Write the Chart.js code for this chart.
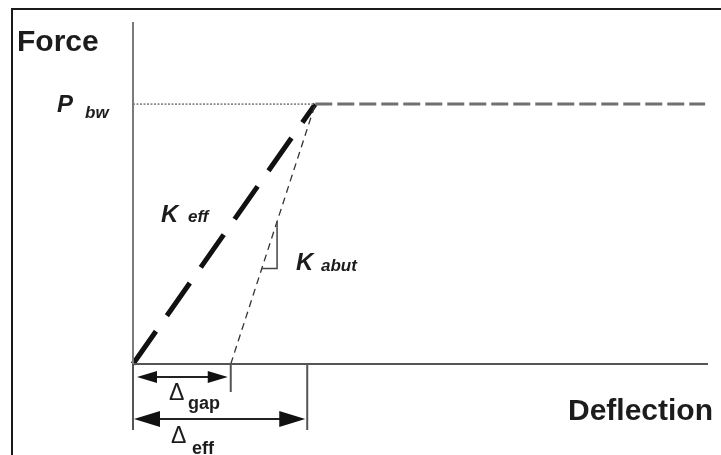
<!DOCTYPE html>
<html>
<head>
<meta charset="utf-8">
<script src="https://cdn.jsdelivr.net/npm/chart.js@4.4.1/dist/chart.umd.min.js"></script>
<style>
    html, body { margin: 0; padding: 0; background: #fff; }
    #wrap { position: relative; width: 721px; height: 455px; overflow: hidden; }
    #frame { position: absolute; left: 11px; top: 8px; width: 800px; height: 600px;
             border-left: 2px solid #1a1a1a; border-top: 2px solid #1a1a1a; }
    canvas { position: absolute; left: 0; top: 0; }
</style>
</head>
<body>
<div id="wrap">
    <div id="frame"></div>
    <canvas id="forceChart" width="721" height="455"></canvas>
</div>
<script>
// Bilinear force-deflection model (arbitrary units, axes run 0..100)
const axisMax = [100, 100];          // [deflection, force]
const pBw = 76;                      // backwall capacity
const yieldDeflection = 31.7;        // deflection where P_bw is reached
const deltaGap = 17;                 // gap before abutment engages
const deltaEff = 30.3;               // effective deflection (dimension mark)
const plateauEnd = 99.5;
const slopeMark = [0.367, 0.548];    // fractions of P_bw spanned by the slope triangle

const kEffLine = [[0, 0], [yieldDeflection, pBw]];
const kAbutLine = [[deltaGap, 0], [yieldDeflection, pBw]];
const pBwGuide = [[0, pBw], [yieldDeflection, pBw]];
const plateau = [[yieldDeflection, pBw], [plateauEnd, pBw]];
const xAxisLine = [[0, 0], [axisMax[0], 0]];
const yAxisLine = [[0, 0], [0, axisMax[1]]];

const toPoints = arr => arr.map(p => ({ x: p[0], y: p[1] }));

function lineSet(data, color, width, dash) {
    return {
        data: toPoints(data),
        borderColor: color,
        borderWidth: width,
        borderDash: dash || [],
        borderCapStyle: "butt",
        pointRadius: 0,
        fill: false,
        clip: false,
        tension: 0
    };
}

// Dimension lines, symbols and axis names drawn on top of the chart
const annotations = {
    id: "annotations",
    afterDraw(chart) {
        const ctx = chart.ctx;
        const xs = chart.scales.x, ys = chart.scales.y;
        const px = v => xs.getPixelForValue(v);
        const py = v => ys.getPixelForValue(v);
        const x0 = px(0), xg = px(deltaGap), xe = px(deltaEff), base = py(0);

        ctx.save();

        // extension lines under the deflection axis
        ctx.strokeStyle = "#555";
        ctx.lineWidth = 2;
        ctx.beginPath();
        ctx.moveTo(x0, base); ctx.lineTo(x0, base + 66);
        ctx.moveTo(xg, base); ctx.lineTo(xg, base + 28);
        ctx.moveTo(xe, base); ctx.lineTo(xe, base + 66);
        ctx.stroke();

        function arrow(a, b, y, len, half) {
            ctx.strokeStyle = "#222";
            ctx.fillStyle = "#111";
            ctx.lineWidth = 2;
            ctx.beginPath();
            ctx.moveTo(a + len * 0.5, y); ctx.lineTo(b - len * 0.5, y);
            ctx.stroke();
            ctx.beginPath();
            ctx.moveTo(a, y); ctx.lineTo(a + len, y - half); ctx.lineTo(a + len, y + half);
            ctx.closePath(); ctx.fill();
            ctx.beginPath();
            ctx.moveTo(b, y); ctx.lineTo(b - len, y - half); ctx.lineTo(b - len, y + half);
            ctx.closePath(); ctx.fill();
        }
        arrow(x0 + 4, xg - 3, base + 13, 20, 6);
        arrow(x0 + 1, xe - 2, base + 55, 26, 8);

        // slope triangle on the abutment line
        const [t1, t2] = slopeMark;
        const ax = px(deltaGap + (yieldDeflection - deltaGap) * t1), ay = py(pBw * t1);
        const bx = px(deltaGap + (yieldDeflection - deltaGap) * t2), by = py(pBw * t2);
        ctx.strokeStyle = "#444";
        ctx.lineWidth = 1.5;
        ctx.beginPath();
        ctx.moveTo(ax, ay); ctx.lineTo(bx, ay); ctx.lineTo(bx, by);
        ctx.stroke();

        // texts
        ctx.fillStyle = "#1c1c1c";
        ctx.textBaseline = "alphabetic";
        ctx.textAlign = "left";
        const sans = "'Liberation Sans', Arial, sans-serif";

        ctx.font = "bold 30px " + sans;
        ctx.fillText("Force", 17, 51);
        ctx.fillText("Deflection", 568, 420);

        ctx.font = "italic bold 24px " + sans;
        ctx.fillText("P", 57, 112);
        ctx.fillText("K", 161, 222);
        ctx.fillText("K", 296, 270);
        ctx.font = "italic bold 17px " + sans;
        ctx.fillText("bw", 85, 118);
        ctx.fillText("eff", 188, 222);
        ctx.fillText("abut", 321, 271);

        ctx.font = "23px " + sans;
        ctx.fillText("\u0394", 169, 400);
        ctx.fillText("\u0394", 171, 443);
        ctx.font = "bold 18px " + sans;
        ctx.fillText("gap", 188, 409);
        ctx.fillText("eff", 192, 454);

        ctx.restore();
    }
};

new Chart(document.getElementById("forceChart").getContext("2d"), {
    type: "line",
    data: {
        datasets: [
            lineSet(yAxisLine, "#7a7a7a", 2),
            lineSet(xAxisLine, "#555", 2),
            lineSet(pBwGuide, "#8a8a8a", 1.6, [2, 1.5]),
            lineSet(plateau, "#707070", 3, [17, 5]),
            lineSet(kAbutLine, "#333", 1.3, [7, 5]),
            lineSet(kEffLine, "#111", 5, [40, 19])
        ]
    },
    options: {
        responsive: false,
        animation: false,
        events: [],
        layout: { padding: { left: 133, right: 13, top: 22, bottom: 91 } },
        plugins: { legend: { display: false }, tooltip: { enabled: false } },
        scales: {
            x: { type: "linear", min: 0, max: axisMax[0], display: false },
            y: { type: "linear", min: 0, max: axisMax[1], display: false }
        }
    },
    plugins: [annotations]
});
</script>
</body>
</html>
